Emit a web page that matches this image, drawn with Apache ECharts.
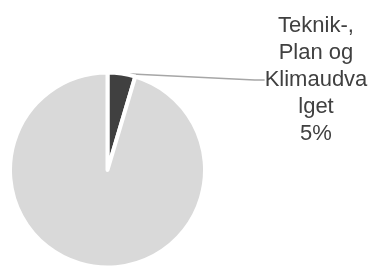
<!DOCTYPE html>
<html>
<head>
<meta charset="utf-8">
<script src="https://cdn.jsdelivr.net/npm/echarts@6/dist/echarts.min.js"></script>
<style>
  html, body { margin: 0; padding: 0; background: #ffffff; }
  #chart { width: 374px; height: 269px; }
</style>
</head>
<body>
<div id="chart"></div>
<script>
// slice names and shares
const sliceNames = ["Teknik-, Plan og Klimaudvalget", "Øvrige"];
const sliceValues = [4.6, 95.4];
const sliceColors = ["#404040", "#d9d9d9"];

const myChart = echarts.init(document.getElementById("chart"));

const option = {
  backgroundColor: "#ffffff",
  animation: false,
  series: [
    {
      type: "pie",
      center: [107.5, 170],
      radius: 97.5,
      startAngle: 90,
      clockwise: true,
      itemStyle: {
        borderColor: "#ffffff",
        borderWidth: 4,
      },
      label: {
        show: true,
        color: "#404040",
        fontFamily: "Liberation Sans",
        fontSize: 22,
        lineHeight: 27,
        align: "center",
        formatter: (p) => "Teknik-,\nPlan og\nKlimaudva\nlget\n" + Math.round(p.percent) + "%",
      },
      labelLine: {
        show: true,
        length: 10,
        length2: 10,
        smooth: false,
        lineStyle: { color: "#a6a6a6", width: 1.5 },
      },
      labelLayout: (params) => {
        if (params.dataIndex !== 0) return {};
        return { x: 316, y: 80, align: "center", verticalAlign: "middle" };
      },
      data: sliceNames.map((name, i) => ({
        name: name,
        value: sliceValues[i],
        itemStyle: { color: sliceColors[i] },
        label: { show: i === 0 },
        labelLine: { show: i === 0 },
      })),
    },
  ],
};

myChart.setOption(option);
</script>
</body>
</html>
